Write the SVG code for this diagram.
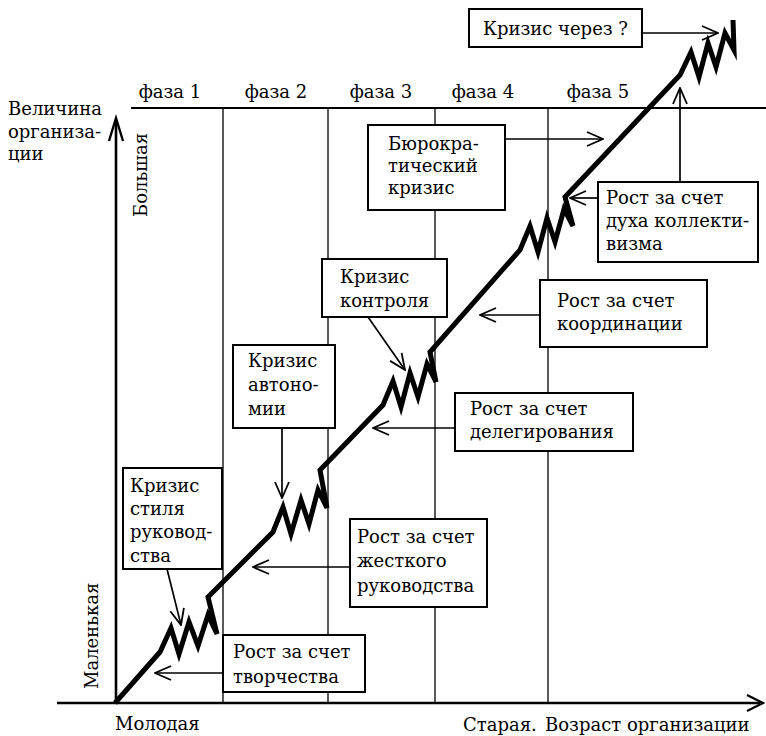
<svg xmlns="http://www.w3.org/2000/svg" width="766" height="736" viewBox="0 0 766 736">
  <style>
    text { font-family: "DejaVu Serif", "Liberation Serif", serif; font-size: 18px; fill: #000; }
    .box rect { fill: #fff; stroke: #000; stroke-width: 2; }
    .grid { stroke: #000; stroke-width: 1.3; fill: none; }
    .axis { stroke: #000; stroke-width: 2.6; fill: none; }
    .link { stroke: #000; stroke-width: 1.7; fill: none; marker-end: url(#head); }
    .growth { stroke: #000; stroke-width: 5; fill: none; stroke-linejoin: miter; stroke-miterlimit: 6; }
  </style>
  <defs>
    <marker id="head" viewBox="0 0 18 16" refX="17" refY="8" markerWidth="18" markerHeight="16" markerUnits="userSpaceOnUse" orient="auto">
      <path d="M1,1 L17,8 L1,15" fill="none" stroke="#000" stroke-width="1.8"/>
    </marker>
  </defs>

  <rect width="766" height="736" fill="#fff"/>

  <!-- phase grid -->
  <g id="grid">
    <line class="grid" x1="131" y1="108" x2="766" y2="108" style="stroke-width:1.8"/>
    <line class="grid" x1="223" y1="108" x2="223" y2="703"/>
    <line class="grid" x1="328" y1="108" x2="328" y2="703"/>
    <line class="grid" x1="435" y1="108" x2="435" y2="703"/>
    <line class="grid" x1="548" y1="108" x2="548" y2="703"/>
    <text x="170" y="98" text-anchor="middle">фаза 1</text>
    <text x="276" y="98" text-anchor="middle">фаза 2</text>
    <text x="381" y="98" text-anchor="middle">фаза 3</text>
    <text x="483" y="98" text-anchor="middle">фаза 4</text>
    <text x="598" y="98" text-anchor="middle">фаза 5</text>
  </g>

  <!-- axes -->
  <g id="axes">
    <line class="axis" x1="116" y1="703" x2="116" y2="120"/>
    <path class="axis" d="M109,141 L116,118 L123,141" style="stroke-width:2.4"/>
    <line class="axis" x1="57" y1="703" x2="760" y2="703"/>
    <path class="axis" d="M747,695 L763,703 L747,711" style="stroke-width:2.2"/>
    <text x="8" y="115">Величина</text>
    <text x="8" y="138">организа-</text>
    <text x="8" y="160">ции</text>
    <text transform="translate(147,217) rotate(-90)">Большая</text>
    <text transform="translate(98,689) rotate(-90)">Маленькая</text>
    <text x="115" y="730">Молодая</text>
    <text x="463" y="731">Старая.</text>
    <text x="545" y="731">Возраст организации</text>
  </g>

  <!-- growth line with crisis springs -->
  <g id="growth">
    <polyline class="growth" points="115,703 160,652 171,628 179,654 189,622 198,646 208,615 217,634 208,597 273,532 283,507 291,534 301,500 309,524 318,490 327,508 320,470 383,405 393,381 401,407 410,373 418,397 427,364 436,382 430,352 520,250 530,226 538,252 547,218 555,242 564,209 573,226 565,197 680,75 691,52 699,77 708,43 716,67 725,33 734,50 733,20"/>
  </g>

  <!-- connectors -->
  <g id="connectors">
    <line class="link" x1="642" y1="33" x2="718" y2="33"/>
    <line class="link" x1="505" y1="139" x2="603" y2="139"/>
    <line class="link" x1="598" y1="198" x2="570" y2="198"/>
    <line class="link" x1="680" y1="182" x2="680" y2="88"/>
    <line class="link" x1="368" y1="317" x2="405" y2="370"/>
    <line class="link" x1="540" y1="315" x2="480" y2="315"/>
    <line class="link" x1="282" y1="428" x2="282" y2="498"/>
    <line class="link" x1="455" y1="428" x2="373" y2="428"/>
    <line class="link" x1="167" y1="569" x2="181" y2="625"/>
    <line class="link" x1="350" y1="567" x2="253" y2="567"/>
    <line class="link" x1="223" y1="673" x2="155" y2="673"/>
  </g>

  <!-- labelled boxes -->
  <g id="crisis-unknown" class="box">
    <rect x="469" y="9" width="173" height="38"/>
    <text x="483" y="35">Кризис через ?</text>
  </g>
  <g id="crisis-bureaucracy" class="box">
    <rect x="368" y="125" width="137" height="85"/>
    <text x="388" y="150">Бюрокра-</text>
    <text x="388" y="172">тический</text>
    <text x="388" y="194">кризис</text>
  </g>
  <g id="growth-collaboration" class="box">
    <rect x="598" y="182" width="160" height="80"/>
    <text x="606" y="204">Рост за счет</text>
    <text x="606" y="227">духа коллекти-</text>
    <text x="606" y="250">визма</text>
  </g>
  <g id="crisis-control" class="box">
    <rect x="322" y="259" width="125" height="58"/>
    <text x="340" y="283">Кризис</text>
    <text x="340" y="307">контроля</text>
  </g>
  <g id="growth-coordination" class="box">
    <rect x="540" y="280" width="167" height="67"/>
    <text x="557" y="307">Рост за счет</text>
    <text x="557" y="330">координации</text>
  </g>
  <g id="crisis-autonomy" class="box">
    <rect x="233" y="345" width="102" height="83"/>
    <text x="248" y="367">Кризис</text>
    <text x="248" y="391">автоно-</text>
    <text x="248" y="415">мии</text>
  </g>
  <g id="growth-delegation" class="box">
    <rect x="455" y="393" width="178" height="58"/>
    <text x="470" y="415">Рост за счет</text>
    <text x="470" y="438">делегирования</text>
  </g>
  <g id="crisis-leadership" class="box">
    <rect x="123" y="468" width="99" height="101"/>
    <text x="130" y="492">Кризис</text>
    <text x="130" y="515">стиля</text>
    <text x="130" y="538">руковод-</text>
    <text x="130" y="562">ства</text>
  </g>
  <g id="growth-direction" class="box">
    <rect x="350" y="519" width="137" height="88"/>
    <text x="357" y="543">Рост за счет</text>
    <text x="357" y="567">жесткого</text>
    <text x="357" y="592">руководства</text>
  </g>
  <g id="growth-creativity" class="box">
    <rect x="223" y="635" width="142" height="57"/>
    <text x="233" y="658">Рост за счет</text>
    <text x="233" y="683">творчества</text>
  </g>
</svg>
